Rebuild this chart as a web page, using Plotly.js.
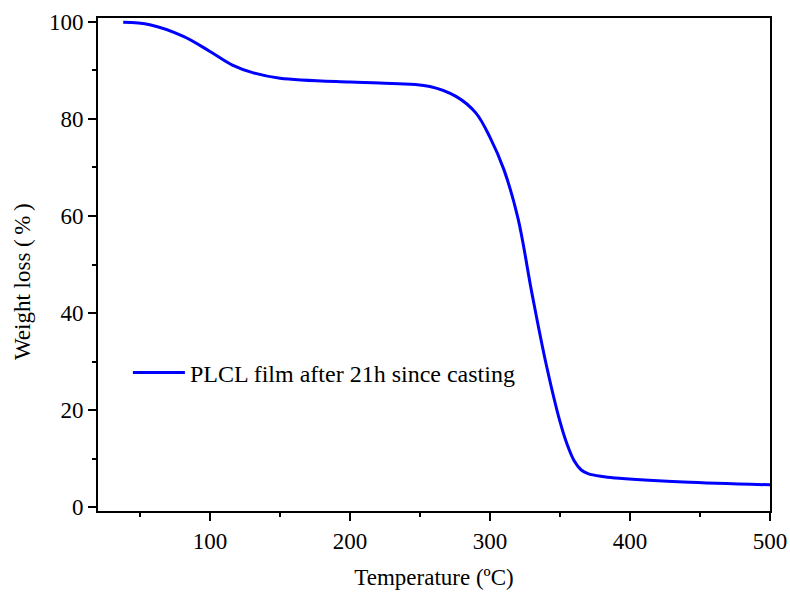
<!DOCTYPE html>
<html>
<head>
<meta charset="utf-8">
<script src="https://cdn.plot.ly/plotly-3.0.1.min.js"></script>
<style>html,body{margin:0;padding:0;background:#fff}#chart{width:790px;height:592px}</style>
</head>
<body>
<div id="chart"></div>
<script>
const temperature = [38, 57, 81, 100, 116, 131, 150, 200, 221, 257, 276, 290, 300, 310, 320, 330, 340, 350, 355, 360, 365, 370, 380, 390, 438, 500];
const weight = [99.9, 99.4, 97.0, 93.9, 91.1, 89.5, 88.4, 87.6, 87.4, 86.7, 84.6, 81.2, 76.2, 69.5, 59.5, 44.0, 29.6, 17.6, 13.0, 9.6, 7.7, 6.9, 6.3, 6.0, 5.2, 4.6];
const seriesName = 'PLCL film after 21h since casting';
const xTicks = [100, 200, 300, 400, 500];
const yTicks = [0, 20, 40, 60, 80, 100];
const xTitle = 'Temperature (ºC)';
const yTitle = 'Weight loss (\u2009%\u2009)';

const fam = 'Liberation Serif, Times New Roman, serif';
const tickFont = {family: fam, size: 23, color: '#000'};
const titleFont = {family: fam, size: 23, color: '#000'};
const legendFont = {family: fam, size: 24, color: '#000'};

const trace = {
  x: temperature, y: weight, type: 'scatter', mode: 'lines',
  name: seriesName, line: {color: '#0000ff', width: 3, shape: 'spline', smoothing: 1}
};

const axisCommon = {
  showline: true, linecolor: '#000', linewidth: 2, mirror: true,
  ticks: 'outside', ticklen: 8, tickwidth: 2, tickcolor: '#000',
  showgrid: false, zeroline: false, tickfont: tickFont
};

const layout = {
  width: 790, height: 592,
  margin: {l: 98, r: 20, t: 18, b: 81},
  paper_bgcolor: '#fff', plot_bgcolor: '#fff',
  font: tickFont,
  showlegend: true,
  legend: {x: 0.0445, y: 0.28, xanchor: 'left', yanchor: 'middle', bgcolor: 'rgba(0,0,0,0)', borderwidth: 0, font: legendFont, itemwidth: 52},
  xaxis: Object.assign({}, axisCommon, {
    range: [20, 500], tickvals: xTicks, ticktext: xTicks.map(String),
    minor: {ticks: 'outside', ticklen: 4, tickwidth: 2, tickcolor: '#000', dtick: 50, tick0: 0, showgrid: false},
    title: {text: xTitle, font: titleFont, standoff: 16}
  }),
  yaxis: Object.assign({}, axisCommon, {
    range: [-0.8, 100.8], tickvals: yTicks, ticktext: yTicks.map(String),
    minor: {ticks: 'outside', ticklen: 4, tickwidth: 2, tickcolor: '#000', dtick: 10, tick0: 0, showgrid: false}
  }),
  annotations: [{
    text: yTitle, xref: 'paper', yref: 'paper', x: -0.113, y: 0.4645,
    xanchor: 'center', yanchor: 'middle', textangle: -90, showarrow: false, font: titleFont
  }]
};

Plotly.newPlot('chart', [trace], layout, {displayModeBar: false, staticPlot: true});
</script>
</body>
</html>
